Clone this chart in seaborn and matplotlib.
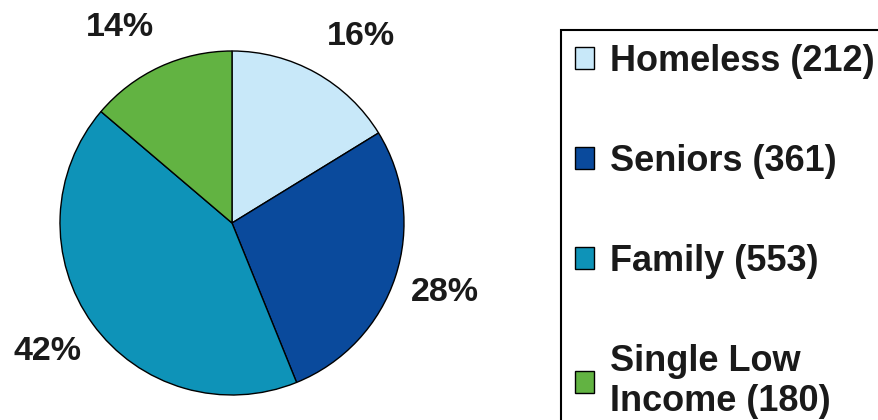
import numpy as np
import matplotlib
matplotlib.use("Agg")
import matplotlib.pyplot as plt
import seaborn as sns
from matplotlib.patches import Patch

categories = ["Homeless", "Seniors", "Family", "Single Low\nIncome"]
counts = [212, 361, 553, 180]
pct_labels = ["16%", "28%", "42%", "14%"]
colors_hex = ["#C8E8F9", "#0A4A9C", "#0E93B8", "#62B342"]

sns.set_style("white")
plt.rcParams['font.family'] = ['Liberation Sans', 'DejaVu Sans']

palette = sns.color_palette(colors_hex)

fig = plt.figure(figsize=(8.79, 4.20), dpi=100)
W, H = 879, 420
R = 172.0
cx, cy = 232.0, 420 - 223.0
L = 1.3
side = 2 * L * R
ax = fig.add_axes([(cx - side / 2) / W, (cy - side / 2) / H, side / W, side / H])

wedges, _ = ax.pie(counts, colors=palette, startangle=90, counterclock=False,
                   wedgeprops=dict(edgecolor="black", linewidth=1.0))
ax.set_xlim(-L, L)
ax.set_ylim(-L, L)
ax.set_aspect("equal")
ax.axis("off")

label_dist = [1.32, 1.30, 1.31, 1.31]
label_angle_shift = [-5.5, 0.0, -1.0, 5.0]
for w, txt, d, s in zip(wedges, pct_labels, label_dist, label_angle_shift):
    ang = np.deg2rad((w.theta1 + w.theta2) / 2 + s)
    ax.text(d * np.cos(ang), d * np.sin(ang), txt, ha="center", va="center",
            fontsize=24.5, fontweight="bold", color="#1a1a1a")

handles = [Patch(facecolor=c, edgecolor="black", linewidth=1.0) for c in palette]
labels = [f"{c} ({n})" for c, n in zip(categories, counts)]
leg = fig.legend(handles, labels, loc="upper left", bbox_to_anchor=(561 / W, 1 - 30 / H),
                 prop=dict(family=['Liberation Sans', 'DejaVu Sans'], weight="bold", size=26),
                 frameon=True, fancybox=False, shadow=False, framealpha=1,
                 edgecolor="black", handlelength=0.53, handleheight=0.53,
                 handletextpad=0.44, borderpad=0.38, labelspacing=1.8,
                 borderaxespad=0)
leg.get_frame().set_linewidth(1.5)
for t in leg.get_texts():
    t.set_color("#1a1a1a")

fig.savefig("out.png", dpi=100)
